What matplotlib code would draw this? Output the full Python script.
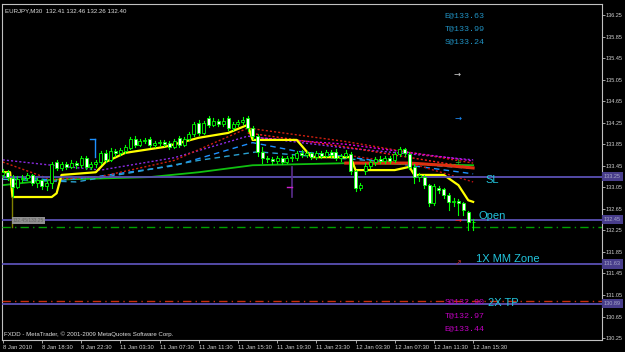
import matplotlib.pyplot as plt
from matplotlib.patches import Rectangle
from matplotlib.transforms import blended_transform_factory

# EURJPY M30 bars, oldest first (open, high, low, close)
opens = [133.28, 133.33, 133.22, 133.06, 133.20, 133.22, 133.28, 133.13, 133.19, 133.07,
         133.13, 133.52, 133.41, 133.48, 133.43, 133.50, 133.46, 133.59, 133.43, 133.48,
         133.52, 133.69, 133.56, 133.72, 133.69, 133.72, 133.78, 133.95, 133.84, 133.91,
         133.95, 133.84, 133.87, 133.89, 133.88, 133.80, 133.97, 133.84, 133.95, 134.04,
         134.24, 134.06, 134.33, 134.21, 134.28, 134.22, 134.33, 134.15, 134.22, 134.26,
         134.33, 134.15, 134.00, 133.71, 133.59, 133.57, 133.54, 133.59, 133.52, 133.59,
         133.59, 133.69, 133.65, 133.69, 133.61, 133.69, 133.63, 133.71, 133.71, 133.59,
         133.63, 133.67, 133.35, 133.04, 133.35, 133.45, 133.52, 133.57, 133.54, 133.59,
         133.56, 133.67, 133.76, 133.67, 133.43, 133.24, 133.24, 133.09, 132.76, 133.04,
         133.02, 132.91, 132.78, 132.80, 132.76, 132.59, 132.41]
highs = [133.39, 133.37, 133.28, 133.26, 133.28, 133.32, 133.30, 133.22, 133.21, 133.17,
         133.52, 133.56, 133.52, 133.52, 133.56, 133.54, 133.63, 133.63, 133.52, 133.56,
         133.72, 133.74, 133.78, 133.76, 133.78, 133.84, 133.98, 134.00, 133.95, 133.97,
         133.98, 133.91, 133.93, 133.93, 133.91, 133.95, 134.00, 133.99, 134.08, 134.26,
         134.30, 134.28, 134.37, 134.33, 134.31, 134.33, 134.37, 134.26, 134.30, 134.35,
         134.37, 134.19, 134.04, 133.80, 133.63, 133.61, 133.63, 133.63, 133.63, 133.65,
         133.72, 133.74, 133.72, 133.71, 133.72, 133.73, 133.74, 133.74, 133.76, 133.67,
         133.74, 133.71, 133.37, 133.13, 133.50, 133.56, 133.61, 133.63, 133.63, 133.63,
         133.71, 133.80, 133.78, 133.71, 133.48, 133.32, 133.28, 133.11, 133.11, 133.07,
         133.04, 132.94, 132.85, 132.84, 132.78, 132.61, 132.46]
lows = [133.24, 133.19, 132.87, 133.04, 133.15, 133.19, 133.09, 133.06, 133.02, 133.00,
        133.04, 133.37, 133.37, 133.39, 133.41, 133.41, 133.43, 133.39, 133.39, 133.43,
        133.48, 133.52, 133.54, 133.63, 133.65, 133.69, 133.76, 133.80, 133.82, 133.87,
        133.80, 133.80, 133.82, 133.82, 133.76, 133.78, 133.80, 133.82, 133.93, 134.00,
        134.02, 134.04, 134.17, 134.19, 134.18, 134.19, 134.11, 134.11, 134.19, 134.22,
        134.09, 133.95, 133.63, 133.50, 133.52, 133.48, 133.50, 133.48, 133.50, 133.54,
        133.56, 133.61, 133.61, 133.57, 133.57, 133.59, 133.61, 133.61, 133.56, 133.54,
        133.59, 133.30, 132.98, 133.00, 133.30, 133.41, 133.46, 133.50, 133.50, 133.50,
        133.52, 133.63, 133.63, 133.39, 133.13, 133.17, 133.04, 132.70, 132.72, 132.94,
        132.85, 132.63, 132.70, 132.54, 132.54, 132.26, 132.26]
closes = [133.33, 133.24, 133.06, 133.20, 133.22, 133.28, 133.13, 133.19, 133.07, 133.13,
          133.48, 133.41, 133.48, 133.43, 133.50, 133.46, 133.59, 133.43, 133.48, 133.52,
          133.69, 133.56, 133.72, 133.69, 133.74, 133.80, 133.95, 133.84, 133.91, 133.93,
          133.84, 133.87, 133.89, 133.86, 133.80, 133.91, 133.84, 133.95, 134.04, 134.22,
          134.06, 134.24, 134.21, 134.28, 134.22, 134.29, 134.15, 134.22, 134.26, 134.30,
          134.15, 134.00, 133.71, 133.59, 133.57, 133.54, 133.59, 133.52, 133.59, 133.61,
          133.69, 133.65, 133.69, 133.61, 133.69, 133.63, 133.71, 133.65, 133.59, 133.63,
          133.69, 133.35, 133.04, 133.09, 133.45, 133.52, 133.57, 133.54, 133.59, 133.54,
          133.67, 133.76, 133.69, 133.43, 133.24, 133.28, 133.09, 132.76, 133.07, 133.00,
          132.91, 132.78, 132.80, 132.76, 132.63, 132.41, 132.40]

# indicator lines as (bar, price) points
yellow_bars = [0, 1.5, 2, 10, 11, 12, 19, 21, 25, 33, 40, 46, 50, 51, 60, 63, 71, 72, 80, 83, 84, 90, 93, 95, 96]
yellow_vals = [133.33, 133.33, 132.87, 132.87, 132.94, 133.28, 133.33, 133.52, 133.69, 133.80, 133.97, 134.06,
               134.21, 133.93, 133.93, 133.61, 133.61, 133.37, 133.37, 133.43, 133.28, 133.28, 133.09, 132.81, 132.78]
green_bars = [0, 10, 30, 40, 51, 71, 96]
green_vals = [133.09, 133.19, 133.24, 133.33, 133.46, 133.50, 133.46]
redthick_bars = [70, 83, 90, 96]
redthick_vals = [133.50, 133.50, 133.46, 133.41]
blue1_bars = [0, 12, 20, 35, 51, 60, 70, 96]
blue1_vals = [133.24, 133.18, 133.26, 133.45, 133.88, 133.72, 133.62, 133.30]
blue2_bars = [0, 15, 28, 40, 52, 60, 96]
blue2_vals = [133.20, 133.15, 133.35, 133.55, 133.71, 133.65, 133.40]
purple_bars = [0, 10, 20, 35, 50, 70, 96]
purple_vals = [133.56, 133.46, 133.37, 133.60, 134.00, 133.78, 133.56]
red1_bars = [0, 10, 20, 35, 50, 70, 96]
red1_vals = [133.52, 133.19, 133.25, 133.55, 134.15, 133.90, 133.50]
red2_bars = [50, 70, 96]
red2_vals = [134.06, 133.80, 133.41]
magenta_bars = [52, 70, 96]
magenta_vals = [133.97, 133.85, 133.54]
red3_bars = [70, 85, 96]
red3_vals = [133.65, 133.45, 133.15]

# horizontal levels of the trade
levels = {'SL': 133.25, 'Open': 132.45, '1X MM Zone': 131.63, '2X TP': 130.89}
level_labels = ['133.25', '132.45', '131.63', '130.89']
green_dashdot = 132.31
red_dashdot = 130.93

top_notes = ['E@133.63', 'T@133.99', 'S@133.24']
top_note_prices = [136.23, 135.99, 135.75]
bottom_notes = ['S@132.90', 'T@132.97', 'E@133.44']
bottom_note_prices = [130.92, 130.66, 130.42]

yticks = [130.25 + 0.4 * k for k in range(16)]
xtick_bars = list(range(0, 97, 8))
xtick_labels = ['8 Jan 2010', '8 Jan 18:30', '8 Jan 22:30', '11 Jan 03:30', '11 Jan 07:30',
                '11 Jan 11:30', '11 Jan 15:30', '11 Jan 19:30', '11 Jan 23:30', '12 Jan 03:30',
                '12 Jan 07:30', '12 Jan 11:30', '12 Jan 15:30']

FONT = 'Liberation Sans'
GRAY = '#c0c0c0'
LVL = '#5a50b4'
CYAN = '#22c4dc'

fig = plt.figure(figsize=(6.25, 3.52), dpi=100, facecolor='black')
ax = fig.add_axes([2 / 625, 12 / 352, 600 / 625, 336 / 352], facecolor='black')
ax.set_xlim(-0.15, 122.3)
ax.set_ylim(130.215, 136.454)

# moving averages and other indicator lines
ax.plot(green_bars, green_vals, color='#10c010', lw=1.3, zorder=2)
ax.plot(blue1_bars, blue1_vals, color='#1e90ff', lw=1, ls=(0, (4, 3)), zorder=2)
ax.plot(blue2_bars, blue2_vals, color='#2aa0d0', lw=1, ls=(0, (4, 3)), zorder=2)
ax.plot(purple_bars, purple_vals, color='#8a2be2', lw=1, ls=(0, (1.5, 1.5)), zorder=2)
ax.plot(red1_bars, red1_vals, color='#d02010', lw=1, ls=(0, (1.5, 1.5)), zorder=2)
ax.plot(red2_bars, red2_vals, color='#ff2020', lw=1, ls=(0, (1.5, 1.5)), zorder=2)
ax.plot(red3_bars, red3_vals, color='#c01010', lw=1, ls=(0, (1.5, 1.5)), zorder=2)
ax.plot(magenta_bars, magenta_vals, color='#e000e0', lw=1, ls=(0, (1.5, 1.5)), zorder=2)
ax.plot(redthick_bars, redthick_vals, color='#e03010', lw=2.2, zorder=2)
ax.plot(yellow_bars, yellow_vals, color='#ffff00', lw=1.6, zorder=3)

# horizontal levels
for price in levels.values():
    ax.axhline(price, color=LVL, lw=1.3, zorder=4)
ax.axhline(green_dashdot, color='#00a000', lw=1, ls=(0, (6, 3, 1, 3)), zorder=4)
ax.axhline(red_dashdot, color='#c83010', lw=1, ls=(0, (6, 3, 1, 3)), zorder=4)

# candles
for i in range(len(opens)):
    o, h, l, c = opens[i], highs[i], lows[i], closes[i]
    ax.plot([i, i], [l, h], color='#00ff00', lw=0.8, zorder=5)
    face = 'white' if c < o else 'black'
    lo, hi = min(o, c), max(o, c)
    ax.add_patch(Rectangle((i - 0.3, lo), 0.6, max(hi - lo, 0.01), facecolor=face,
                           edgecolor='#00ff00', lw=0.6, zorder=6))

# small chart objects
ax.plot([18.9, 18.9], [133.61, 133.95], color='#1e90ff', lw=1, zorder=7)
ax.plot([17.9, 18.9], [133.95, 133.95], color='#1e90ff', lw=1, zorder=7)
ax.plot([59, 59], [132.87, 133.43], color='#5a2d8c', lw=1.2, zorder=7)
ax.plot([58, 59], [133.06, 133.06], color='#d020d0', lw=1, zorder=7)
ax.plot([1.9, 1.9], [132.31, 132.87], color='#808000', lw=1, zorder=7)
ax.text(2, 132.43, '132.45/133.25', fontsize=3.5, family=FONT, color='#606060', va='center',
        bbox=dict(boxstyle='square,pad=0.2', facecolor='#909090', edgecolor='none'), zorder=7)

arrow_style = dict(fontsize=6, ha='center', va='center', family='DejaVu Sans', zorder=8)
ax.text(92.7, 135.15, '\u2192', color='#d0d0d0', **arrow_style)
ax.text(92.9, 134.34, '\u2192', color='#1e90ff', **arrow_style)
ax.text(92.9, 133.52, '+', color='#20c020', **arrow_style)
ax.text(92.9, 132.44, '\u2192', color='#ff2020', **arrow_style)
ax.text(92.9, 131.66, '\u2197', color='#c03030', **arrow_style)

# trade labels
for name, price, bx, dy in zip(levels.keys(), levels.values(), [98.6, 97.0, 96.6, 99.0],
                               [-0.06, 0.06, 0.09, 0.01]):
    ax.text(bx, price + dy, name, color=CYAN, fontsize=8, family=FONT, va='center', ha='left', zorder=9)

for txt, p in zip(top_notes, top_note_prices):
    ax.text(90.1, p, txt, color='#2090c0', fontsize=6, family='Liberation Mono', va='center', zorder=8)
for txt, p in zip(bottom_notes, bottom_note_prices):
    ax.text(90.1, p, txt, color='#c000c0', fontsize=6, family='Liberation Mono', va='center', zorder=8)

# axes styling
for sp in ax.spines.values():
    sp.set_color(GRAY)
    sp.set_linewidth(0.8)
ax.yaxis.tick_right()
ax.set_yticks(yticks)
ax.set_yticklabels(['%.2f' % v for v in yticks])
ax.set_xticks(xtick_bars)
ax.set_xticklabels(xtick_labels, ha='left')
ax.tick_params(axis='y', colors=GRAY, labelcolor='#d0d0d0', length=2, width=0.6, pad=0.8,
               labelsize=4.0, labelfontfamily=FONT)
ax.tick_params(axis='x', colors=GRAY, labelcolor='#d0d0d0', length=2.5, width=0.6, pad=1,
               labelsize=4.2, labelfontfamily=FONT)

tr = blended_transform_factory(ax.transAxes, ax.transData)
for lab in level_labels:
    ax.text(1.003, float(lab), lab, transform=tr, fontsize=4.0, family=FONT, color='#a8a8c8',
            va='center', ha='left', zorder=10, clip_on=False,
            bbox=dict(boxstyle='square,pad=0.4', facecolor='#483d8b', edgecolor='none'))

fig.text(5 / 625, 1 - 11 / 352, 'EURJPY,M30  132.41 132.46 132.26 132.40', color='#e0e0e0',
         fontsize=4.4, family=FONT, va='center')
fig.text(4 / 625, 1 - 334 / 352, 'FXDD - MetaTrader, \u00a9 2001-2009 MetaQuotes Software Corp.',
         color='#e0e0e0', fontsize=4.4, family=FONT, va='center')

fig.savefig('out.png', dpi=100, facecolor='black')
